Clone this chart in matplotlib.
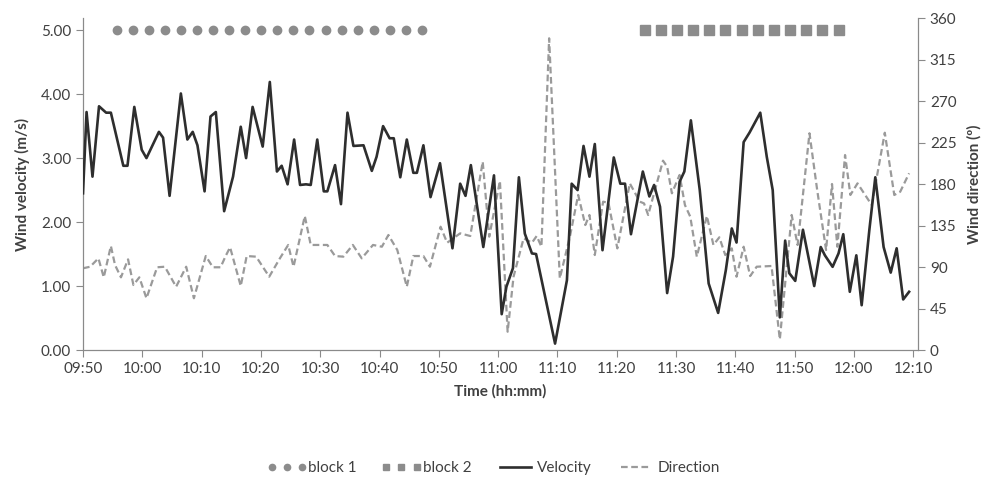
import matplotlib.pyplot as plt

# time in minutes after 09:50
vel_t = [0, 0.6, 1.6, 2.7, 3.9, 4.7, 6.8, 7.5, 8.65, 9.9, 10.7, 12.8, 13.5, 14.6, 16.5, 17.6,
         18.5, 19.3, 20.5, 21.5, 22.4, 23.8, 25.3, 26.6, 27.5, 28.6, 30.3, 31.5, 32.7, 33.5,
         34.5, 35.6, 36.6, 37.6, 38.4, 39.5, 40.6, 41.2, 42.5, 43.5, 44.6, 45.6, 47.3, 48.7,
         49.5, 50.6, 51.7, 52.4, 53.5, 54.6, 55.7, 56.3, 57.4, 58.6, 60.2, 62.3, 63.6, 64.5,
         65.4, 67.5, 69.3, 70.6, 71.4, 72.5, 73.5, 74.5, 75.7, 76.4, 79.6, 81.6, 82.4, 83.4,
         84.4, 85.4, 86.3, 87.6, 89.5, 90.6, 91.4, 92.4, 94.4, 95.5, 96.3, 97.3, 98.5, 99.5,
         100.6, 101.4, 102.5, 104.0, 105.5, 107.1, 108.4, 109.4, 110.2, 111.4, 112.4, 114.2,
         115.3, 116.3, 117.5, 118.4, 119.1, 120.1, 121.4, 123.3, 124.4, 125.1, 126.4, 127.4,
         128.2, 129.3, 130.4, 131.3, 132.6, 133.6, 135.0, 136.2, 137.2, 138.3, 139.3]
vel_v = [2.45, 3.72, 2.71, 3.81, 3.71, 3.71, 2.88, 2.88, 3.80, 3.13, 3.0, 3.41, 3.32, 2.41, 4.01, 3.29,
         3.41, 3.20, 2.48, 3.65, 3.72, 2.17, 2.71, 3.49, 3.0, 3.80, 3.18, 4.19, 2.79, 2.88,
         2.59, 3.29, 2.58, 2.59, 2.58, 3.29, 2.48, 2.48, 2.89, 2.28, 3.71, 3.19, 3.20, 2.80,
         3.02, 3.50, 3.31, 3.31, 2.70, 3.29, 2.77, 2.77, 3.20, 2.39, 2.92, 1.59, 2.60, 2.41,
         2.89, 1.61, 2.73, 0.56, 0.99, 1.28, 2.70, 1.82, 1.51, 1.50, 0.10, 1.09, 2.60, 2.50,
         3.19, 2.71, 3.22, 1.56, 3.01, 2.60, 2.60, 1.81, 2.79, 2.40, 2.58, 2.24, 0.89, 1.46,
         2.63, 2.79, 3.59, 2.50, 1.04, 0.58, 1.25, 1.90, 1.68, 3.25, 3.40, 3.71,
         3.02, 2.50, 0.51, 1.71, 1.20, 1.08, 1.88, 1.00, 1.61, 1.48, 1.30, 1.51,
         1.81, 0.91, 1.48, 0.70, 1.88, 2.70, 1.61, 1.21, 1.59, 0.79, 0.91]

dir_t = [0, 1.2, 2.6, 3.5, 4.7, 5.4, 6.4, 7.6, 8.5, 9.5, 10.7, 12.5, 13.8, 15.7, 17.4, 18.7, 20.7,
         21.9, 23.2, 24.0, 24.8, 26.6, 27.6, 29.2, 31.4, 33.2, 34.6, 35.5, 37.4, 38.4, 41.2,
         42.5, 43.9, 45.5, 47.0, 48.9, 50.4, 51.5, 53.0, 54.6, 55.7, 57.4, 58.5, 60.3, 61.4,
         63.6, 65.3, 67.4, 68.5, 70.3, 71.6, 72.6, 74.3, 75.7, 76.5, 77.3, 78.6, 80.4, 82.1,
         83.5, 84.7, 85.4, 86.3, 87.7, 88.6, 90.1, 92.2, 93.9, 94.6, 95.3, 97.8, 98.5, 99.3,
         100.6, 101.5, 102.4, 103.5, 105.2, 106.3, 107.3, 108.3, 109.4, 110.2, 111.4, 112.5,
         113.6, 116.1, 117.5, 119.5, 120.5, 122.5, 123.8, 125.3, 126.3, 127.2, 128.5, 129.4,
         130.6, 133.0, 135.2, 136.8, 137.8, 139.3]
dir_v = [88.6, 90.3, 99.4, 78.8, 112.8, 92.2, 78.8, 98.3, 70.5, 78.8, 56.1, 89.7, 90.3, 68.6, 90.3, 56.1, 101.9,
         89.7, 89.7, 101.2, 111.4, 69.4, 101.9, 101.2, 79.5, 99.4, 113.9, 90.3, 145.3, 113.9, 113.9,
         101.9, 101.2, 113.9, 99.4, 113.9, 112.0, 124.7, 108.4, 68.6, 101.9, 101.9, 90.3, 133.7, 116.3,
         126.5, 123.6, 204.2, 122.9, 183.4, 19.8, 79.5, 121.1, 116.3, 123.6, 112.0, 338.0, 77.7, 122.9,
         168.1, 135.5, 146.4, 103.0, 160.8, 159.7, 110.2, 180.7, 160.8, 159.0, 146.4, 205.3, 198.8, 169.9,
         189.8, 157.2, 144.5, 101.2, 145.3, 113.9, 122.2, 103.0, 110.2, 79.5, 112.0, 80.2,
         90.3, 91.1, 11.5, 146.4, 113.9, 235.0, 173.5, 108.4, 180.0, 112.0, 211.4, 168.1,
         180.7, 157.2, 235.6, 168.1, 171.6, 191.6]

block1_t = [5.7, 8.4, 11.1, 13.8, 16.5, 19.2, 21.9, 24.6, 27.3, 30.0, 32.7, 35.4, 38.1, 40.9,
            43.6, 46.3, 49.0, 51.8, 54.5, 57.2]
block1_v = [5.0] * len(block1_t)
block2_t = [94.8, 97.5, 100.2, 102.9, 105.6, 108.3, 111.1, 113.8, 116.5, 119.2, 121.9, 124.6, 127.4]
block2_v = [5.0] * len(block2_t)

tick_pos = [0, 10, 20, 30, 40, 50, 60, 70, 80, 90, 100, 110, 120, 130, 140]
tick_lab = ["09:50", "10:00", "10:10", "10:20", "10:30", "10:40", "10:50", "11:00",
            "11:10", "11:20", "11:30", "11:40", "11:50", "12:00", "12:10"]

plt.rcParams['font.family'] = ['Lato', 'DejaVu Sans']
txt = '#404040'
spine_c = '#8a8a8a'

fig = plt.figure(figsize=(9.87, 4.79), dpi=100)
ax = fig.add_axes([83/987, 1-350/479, (918-83)/987, (350-18)/479])
ax2 = ax.twinx()

l1, = ax.plot(block1_t, block1_v, 'o', color='#8c8c8c', markersize=6, label='block 1')
l2, = ax.plot(block2_t, block2_v, 's', color='#8c8c8c', markersize=6.5, label='block 2')
l3, = ax.plot(vel_t, vel_v, color='#2e2e2e', linewidth=1.9, label='Velocity', zorder=3,
              solid_joinstyle='round')
l4, = ax2.plot(dir_t, dir_v, color='#9a9a9a', linewidth=1.6, linestyle=(0, (3, 1.6)),
               label='Direction', zorder=2, dash_joinstyle='round')
ax.set_zorder(ax2.get_zorder() + 1)
ax.patch.set_visible(False)

ax.set_xlim(0, 140.8)
ax.set_ylim(0, 5.19)
ax2.set_ylim(0, 360)
ax.set_yticks([0, 1, 2, 3, 4, 5])
ax.set_yticklabels(["0.00", "1.00", "2.00", "3.00", "4.00", "5.00"])
ax2.set_yticks([0, 45, 90, 135, 180, 225, 270, 315, 360])
ax.set_xticks(tick_pos)
ax.set_xticklabels(tick_lab)

for a in (ax, ax2):
    a.spines['top'].set_visible(False)
    for s in ('left', 'right', 'bottom'):
        a.spines[s].set_color(spine_c)
    a.tick_params(colors=spine_c, labelcolor=txt, labelsize=11, length=5)

ax.set_ylabel("Wind velocity (m/s)", fontsize=11, fontweight='bold', color=txt, labelpad=8)
ax2.set_ylabel("Wind direction (º)", fontsize=11, fontweight='bold', color=txt, labelpad=8)
ax.set_xlabel("Time (hh:mm)", fontsize=11, fontweight='bold', color=txt, labelpad=6)

fig.legend(handles=[l1, l2, l3, l4], loc='center', bbox_to_anchor=(0.5, 1-468/479),
           ncol=4, frameon=False, numpoints=3, handlelength=2.6, handletextpad=0.1,
           columnspacing=1.6, fontsize=11, labelcolor=txt, markerscale=0.75)

fig.savefig("out.png", dpi=100)
